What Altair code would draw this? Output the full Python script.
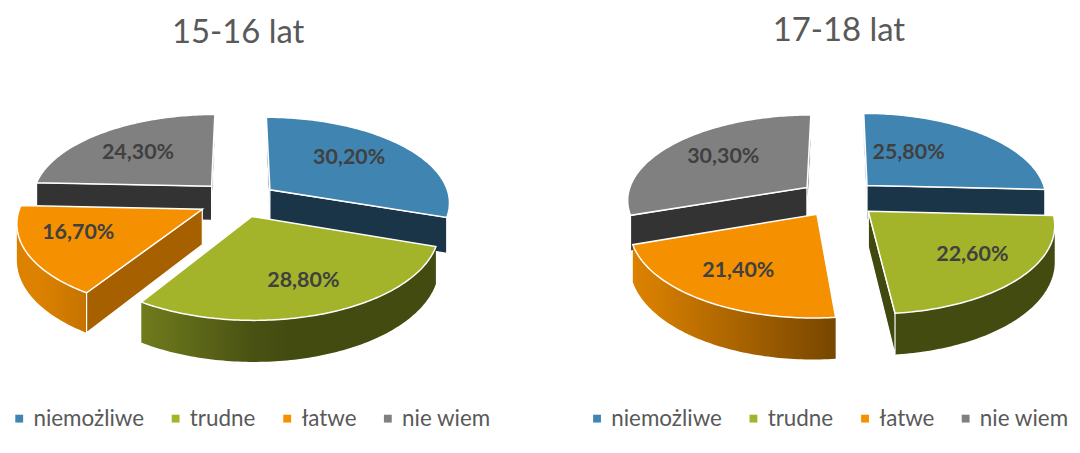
import math
import altair as alt
import pandas as pd

# ---- data ----
categories = ["niemożliwe", "trudne", "łatwe", "nie wiem"]
titles = ["15-16 lat", "17-18 lat"]
values_a = [30.2, 28.8, 16.7, 24.3]
values_b = [25.8, 22.6, 21.4, 30.3]

# ---- style ----
top_colors = ["#4085b2", "#a3b42a", "#f59000", "#808080"]
cut_colors = ["#1a3548", "#42490f", "#a66000", "#333333"]
rim_rgb = [(64, 133, 178), (163, 180, 42), (245, 144, 0), (128, 128, 128)]
FONT = "Lato"

# ---- layout ----
ORIGIN_A = (11.5, 46)
ORIGIN_B = (538, 46)
SIZE_A = (530, 386)
SIZE_B = (534, 386)
RX, RY, K, DEPTH = 181.0, 85.3, 0.135, 35.0
DRAW_ORDER = [3, 0, 2, 1]
CENTER_A, EXPLODE_A = (240.0, 200.0), [0.21, 0.2, 0.23, 0.23]
CENTER_B, EXPLODE_B = (838.0, 198.0), [0.22, 0.22, 0.22, 0.22]
LABELS_AT_A = [(350, 158), (304, 281), (78, 233), (138, 153)]
LABELS_AT_B = [(908, 153), (972, 255), (737, 271), (722, 157)]
PROJ = dict(type="identity", scale=1, translate=[0, 0])


def shade(rgb, xoff):
    f = 0.9 - 0.48 * min(1, max(0, (xoff + 200) / 230))
    return "#%02x%02x%02x" % tuple(int(c * f) for c in rgb)


def panel(values, title, center, explode, origin, size, labels_at, title_dx, title_dy, legend_x):
    total = sum(values)
    cx, cy = center
    ox, oy = origin

    def pt(x, y, bottom=False):
        w = 1 - K * y
        return [cx + RX * x / w - ox, cy + RY * y / w + (DEPTH / w if bottom else 0) - oy]

    def feature(ring, **props):
        return {"type": "Feature", "properties": props,
                "geometry": {"type": "Polygon", "coordinates": [ring + [ring[0]]]}}

    layers = []
    start = 0.0
    spans = []
    for v in values:
        spans.append((start, start + v / total * 360))
        start += v / total * 360

    for i in DRAW_ORDER:
        a0, a1 = spans[i]
        mid = math.radians((a0 + a1) / 2)
        ex, ey = explode[i] * math.sin(mid), -explode[i] * math.cos(mid)
        n = max(2, int(a1 - a0))
        rim = [(ex + math.sin(math.radians(a0 + (a1 - a0) * j / n)),
                ey - math.cos(math.radians(a0 + (a1 - a0) * j / n))) for j in range(n + 1)]

        if i in (1, 2):
            run = [p for j, p in enumerate(rim)
                   if (j + 1 < len(rim) and pt(*rim[j + 1])[0] < pt(*p)[0])
                   or (j > 0 and pt(*p)[0] < pt(*rim[j - 1])[0])]
            tops = [pt(*p) for p in run]
            bots = [pt(*p, bottom=True) for p in run]
            ring = tops + bots[::-1]
            xs = [q[0] for q in ring]
            x0, x1 = min(xs), max(xs)
            stops = [alt.GradientStop(color=shade(rim_rgb[i], x0 + (x1 - x0) * s / 8 + ox - cx), offset=s / 8)
                     for s in range(9)]
            layers.append(alt.Chart(alt.Data(values=[feature(ring, category=categories[i])])).mark_geoshape(
                fill=alt.Gradient(gradient="linear", x1=0, x2=1, y1=0, y2=0, stops=stops),
            ).project(**PROJ))

        apex = (ex, ey)
        cuts = []
        if pt(*rim[0])[0] < pt(*apex)[0]:
            cuts.append(feature([pt(*apex), pt(*rim[0]), pt(*rim[0], bottom=True), pt(*apex, bottom=True)],
                                fill=cut_colors[i]))
        if pt(*rim[-1])[0] > pt(*apex)[0]:
            cuts.append(feature([pt(*apex), pt(*rim[-1]), pt(*rim[-1], bottom=True), pt(*apex, bottom=True)],
                                fill=cut_colors[i]))
        if cuts:
            layers.append(alt.Chart(alt.Data(values=cuts)).mark_geoshape(stroke="white", strokeWidth=1.2).encode(
                fill=alt.Fill("properties.fill:N", scale=None, legend=None),
            ).project(**PROJ))

        top = feature([pt(*apex)] + [pt(*p) for p in rim], category=categories[i])
        layers.append(alt.Chart(alt.Data(values=[top])).mark_geoshape(stroke="white", strokeWidth=1.5).encode(
            color=alt.Color(
                "properties.category:N",
                scale=alt.Scale(domain=categories, range=top_colors),
                legend=alt.Legend(
                    title=None, orient="none", direction="horizontal", legendX=legend_x,
                    legendY=size[1] - 24, columns=4, symbolType="square", symbolSize=62,
                    symbolStrokeWidth=0, labelFont=FONT, labelFontSize=22.5, labelColor="#595959",
                    labelOffset=3, columnPadding=20, labelLimit=300, padding=0,
                ),
            ),
        ).project(**PROJ))

    labels = pd.DataFrame({
        "lon": [p[0] - ox for p in labels_at],
        "lat": [p[1] - oy for p in labels_at],
        "text": [f"{v:.2f}".replace(".", ",") + "%" for v in values],
    })
    layers.append(alt.Chart(labels).mark_text(
        font=FONT, fontSize=21.5, fontWeight="bold", color="#404040", align="center", baseline="middle",
    ).encode(longitude="lon:Q", latitude="lat:Q", text="text:N").project(**PROJ))

    return alt.layer(*layers).properties(
        width=size[0], height=size[1],
        title=alt.TitleParams(title, font=FONT, fontSize=33, fontWeight="normal", color="#595959",
                              anchor="middle", offset=-3, dx=title_dx, dy=title_dy),
    )


left = panel(values_a, titles[0], CENTER_A, EXPLODE_A, ORIGIN_A, SIZE_A, LABELS_AT_A, -38, 0, -4)
right = panel(values_b, titles[1], CENTER_B, EXPLODE_B, ORIGIN_B, SIZE_B, LABELS_AT_B, 33, -2, 46)

chart = alt.hconcat(
    left, right, spacing=0, padding={"left": 0, "right": 0, "top": 6, "bottom": 0}
).resolve_scale(color="independent").configure_view(stroke=None)
chart.save("out.html", embed_options={"renderer": "svg", "actions": False})
